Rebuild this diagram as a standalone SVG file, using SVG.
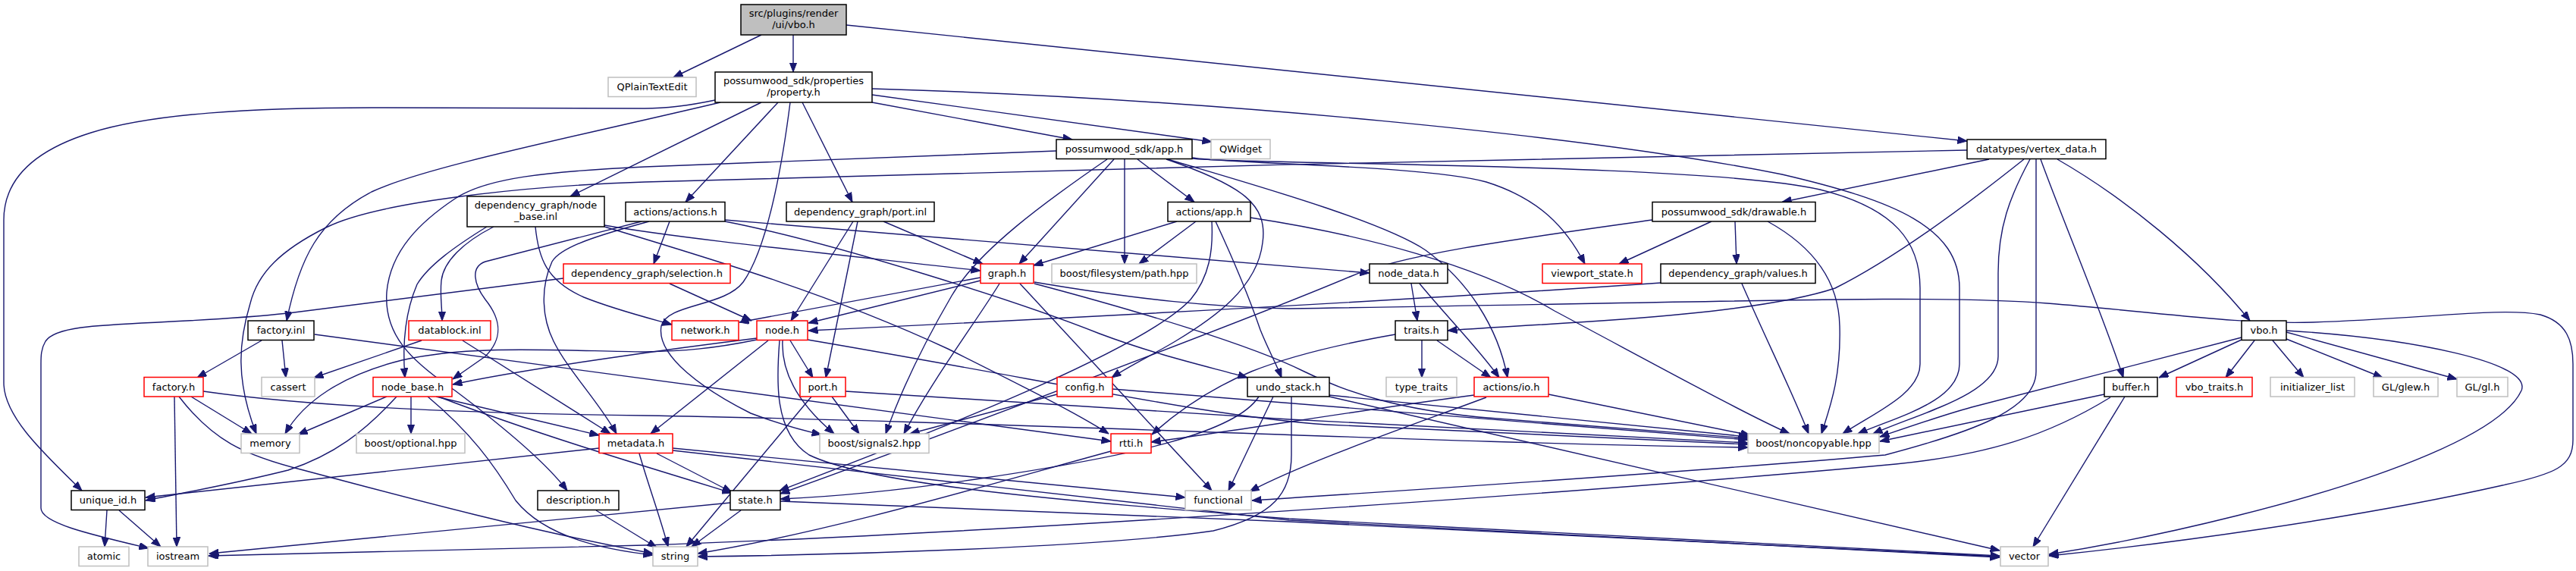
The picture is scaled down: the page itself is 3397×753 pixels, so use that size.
<svg xmlns="http://www.w3.org/2000/svg" width="3397" height="753" viewBox="0 0 3397 753">
<defs>
<marker id="a" markerWidth="13" markerHeight="10" refX="12.5" refY="4.75" orient="auto" markerUnits="userSpaceOnUse"><path d="M0,0 L12.5,4.75 L0,9.5 z" fill="#191970" stroke="#191970" stroke-width="1"/></marker>
</defs>
<style>
.nd rect{fill:#fff;stroke:#000;stroke-width:1.5}
.nd.ext rect{stroke:#bfbfbf}
.nd.tr rect{stroke:#ff0000}
.nd.root rect{fill:#bfbfbf}
.nd text{font-family:"DejaVu Sans","Liberation Sans",sans-serif;font-size:13px;text-anchor:middle;fill:#000}
#edges path{fill:none;stroke:#191970;stroke-width:1.4;marker-end:url(#a)}
</style>
<rect x="0" y="0" width="3397" height="753" fill="#fff"/>
<g id="edges">
<path d="M1004,46 L888,102"/>
<path d="M1046,46 L1046,95"/>
<path d="M1116,33 L2594,186"/>
<path d="M1150,125 L1598,187"/>
<path d="M1150,135 L1414,184"/>
<path d="M1026,135 L904,266.5"/>
<path d="M1058,135 L1124,266.5"/>
<path d="M1004,135 L752,259"/>
<path d="M950,135 C760,180 560,220 490,253 C420,290 395,340 378,423"/>
<path d="M943,132 C905,140 880,143 850,143 L490,142 C330,142 200,150 120,175 C40,200 5,240 5,290 L5,505 C5,550 60,600 108,647"/>
<path d="M1042,135 C1030,230 1010,330 980,372 C955,405 880,400 872,430 C865,470 930,515 990,545 C1030,560 1060,568 1083,573"/>
<path d="M1150,117 C1600,130 2100,180 2350,230 C2500,265 2584,300 2584,380 L2584,480 C2584,530 2500,550 2450,572"/>
<path d="M1500,210 L1575,266.5"/>
<path d="M1483,210 L1483,348"/>
<path d="M1469,210 L1344,348"/>
<path d="M1460,210 C1380,265 1290,330 1255,390 C1220,450 1190,510 1168,572"/>
<path d="M1393,199 L850,220 C720,226 640,235 600,262 C555,292 515,330 510,385 C506,440 540,475 600,515 C660,560 720,610 748,647"/>
<path d="M1572,208 C1620,216 1880,218 1960,240 C2030,262 2065,300 2090,348"/>
<path d="M1572,209 C1640,217 2250,215 2400,250 C2500,275 2532,320 2532,380 L2532,480 C2532,520 2470,545 2430,572"/>
<path d="M1540,210 C1640,240 1820,290 1880,330 C1935,370 1975,430 1988,498"/>
<path d="M1538,210 C1640,245 1672,270 1665,320 C1658,380 1600,420 1550,450 C1520,468 1490,482 1466,498"/>
<path d="M1598,292 C1600,330 1595,365 1570,395 C1500,470 1150,600 1028,647"/>
<path d="M1552,292 L1363,350"/>
<path d="M1577,292 L1502,348"/>
<path d="M1603,292 C1630,350 1650,400 1662,435 C1672,460 1683,480 1690,498"/>
<path d="M1649,287 C1800,310 1950,350 2050,410 C2200,490 2300,545 2360,572"/>
<path d="M2594,198 C2200,205 1300,225 850,240 C700,245 500,265 430,300 C370,330 340,360 330,400 C315,450 310,500 338,572"/>
<path d="M2623,210 L2350,266.5"/>
<path d="M2669,210 C2600,265 2500,340 2420,380 C2300,420 2000,428 1909,436"/>
<path d="M2677,210 C2650,260 2635,300 2635,360 L2635,470 C2635,520 2530,545 2470,572"/>
<path d="M2685,210 L2685,490 C2685,540 2600,570 2486,600 C2200,625 1800,650 1651,660"/>
<path d="M2691,210 C2720,290 2775,420 2800,498"/>
<path d="M2713,210 C2800,260 2900,340 2967,423"/>
<path d="M2257,292 L2135,348"/>
<path d="M2288,292 L2290,348"/>
<path d="M2331,292 C2400,330 2425,380 2426,430 C2428,500 2412,540 2402,572"/>
<path d="M2179,290 C2000,315 1850,335 1780,365 C1650,420 1200,590 1029,651"/>
<path d="M2190,373 C1900,393 1500,415 1066,436"/>
<path d="M2297,374 C2330,450 2365,520 2385,572"/>
<path d="M1861,374 L1869,423"/>
<path d="M1872,374 C1910,420 1950,460 1977,498"/>
<path d="M1875,449 L1875,498"/>
<path d="M1895,449 L1966,498"/>
<path d="M1840,441 C1760,455 1700,470 1650,490 C1590,515 1550,545 1519,573"/>
<path d="M2956,448 L2847,498"/>
<path d="M2973,449 L2935,498"/>
<path d="M2997,449 L3038,498"/>
<path d="M3015,447 L3142,498"/>
<path d="M3015,438 L3240,500"/>
<path d="M2956,445 L2600,537 C2560,548 2520,562 2479,576"/>
<path d="M3015,436 C3180,446 3340,478 3325,515 C3300,570 3150,630 2950,680 C2850,705 2760,722 2702,731"/>
<path d="M2802,523 L2681,721"/>
<path d="M2775,520 L2479,582"/>
<path d="M2783,524 C2700,575 2620,600 2500,612 C2200,640 1400,700 850,719 L275,733"/>
<path d="M1660,523 C1630,570 1500,600 1300,630 C1200,645 1100,655 1029,658"/>
<path d="M1679,523 L1620,647"/>
<path d="M1703,523 L1703,600 C1703,650 1680,680 1600,700 C1450,722 1100,732 920,734"/>
<path d="M1752,521 L2305,576"/>
<path d="M1753,523 L2637,726"/>
<path d="M1944,521 C1800,540 1650,565 1518,583"/>
<path d="M1960,524 C1850,565 1720,610 1648,648"/>
<path d="M2042,520 L2308,574"/>
<path d="M1394,520 L1200,572"/>
<path d="M1467,513 L2305,580"/>
<path d="M1097,523 L1133,572"/>
<path d="M1070,523 L905,721"/>
<path d="M1115,516 L1700,553 L2305,584"/>
<path d="M998,446 C900,458 700,485 597,507"/>
<path d="M998,448 C940,460 900,463 850,464 C720,462 620,455 530,475 C450,495 400,530 376,572"/>
<path d="M1013,449 L858,572"/>
<path d="M1032,449 C1030,490 1050,530 1100,572"/>
<path d="M1042,449 L1072,498"/>
<path d="M1065,448 C1400,505 1600,550 1750,560 L2305,586"/>
<path d="M1028,449 C1024,500 1020,570 1067,600 C1150,640 1400,660 1700,684 L2637,733"/>
<path d="M1293,366 L975,425"/>
<path d="M1293,370 L1066,426"/>
<path d="M1318,374 C1290,420 1230,500 1192,572"/>
<path d="M1345,374 L1598,647"/>
<path d="M1364,372 C1500,395 1600,405 1700,407 C2300,398 2550,388 2700,400 C2850,412 2950,428 3050,425 C3200,420 3300,405 3350,415 C3385,425 3393,450 3393,480 L3393,580 C3393,615 3370,625 3300,640 C3100,685 2850,718 2702,733"/>
<path d="M1364,374 C1500,410 1650,455 1720,490 C1780,520 1850,540 1950,550 L2305,578"/>
<path d="M883,374 L991,423"/>
<path d="M743,367 L380,413 C200,432 80,420 60,450 C54,460 54,470 54,480 L54,670 C54,690 120,705 196,723"/>
<path d="M883,292 L862,348"/>
<path d="M846,292 L640,345 C620,352 625,375 640,395 C660,420 665,445 640,470 L597,500"/>
<path d="M856,292 C790,310 740,325 728,345 C712,380 715,420 730,450 C750,490 790,530 813,572"/>
<path d="M956,290 L1806,360"/>
<path d="M956,292 C1100,320 1350,400 1450,440 C1530,470 1600,485 1645,498"/>
<path d="M651,299 C610,320 585,345 582,370 C580,390 583,405 583,423"/>
<path d="M642,299 C600,325 565,350 550,375 C535,410 530,450 534,498"/>
<path d="M706,299 C710,340 720,370 770,392 C810,408 850,418 886,428"/>
<path d="M797,297 C900,315 1100,335 1293,357"/>
<path d="M797,299 C950,345 1100,390 1250,460 C1350,510 1420,545 1462,572"/>
<path d="M345,449 L260,498"/>
<path d="M372,449 L377,498"/>
<path d="M415,441 L1465,582"/>
<path d="M556,449 L414,498"/>
<path d="M610,449 L805,572"/>
<path d="M252,523 L332,572"/>
<path d="M230,523 L233,721"/>
<path d="M236,523 C280,580 320,600 400,620 C550,660 700,700 861,730"/>
<path d="M268,516 C400,535 600,545 850,548 C1300,555 1900,585 2305,590"/>
<path d="M510,523 L393,573"/>
<path d="M523,523 C480,570 440,600 380,620 C300,640 240,650 192,660"/>
<path d="M542,523 L542,572"/>
<path d="M564,523 C620,570 650,610 680,660 C720,710 800,725 861,732"/>
<path d="M575,523 L790,574"/>
<path d="M578,523 C700,570 850,615 965,650"/>
<path d="M790,591 L192,656"/>
<path d="M866,598 L965,649"/>
<path d="M843,598 C855,640 870,680 881,721"/>
<path d="M887,591 L1563,656"/>
<path d="M887,594 L1700,686 L2637,735"/>
<path d="M963,663 L276,730"/>
<path d="M977,673 L912,721"/>
<path d="M1029,661 L1700,688 L2637,734"/>
<path d="M1465,595 C1300,640 1100,700 920,730"/>
<path d="M141,673 L138,721"/>
<path d="M157,673 L212,721"/>
<path d="M786,673 L866,722"/>
<path d="M1125,292 L1043,423"/>
<path d="M1131,292 L1089,498"/>
<path d="M1165,292 L1296,348"/>
</g>
<g id="n-root" class="nd root"><rect x="977" y="6" width="139" height="40"/><text x="1046.5" y="22">src/plugins/render</text><text x="1046.5" y="36.5">/ui/vbo.h</text></g>
<g id="n-qplaintextedit" class="nd ext"><rect x="802" y="102" width="116" height="25.5"/><text x="860" y="119">QPlainTextEdit</text></g>
<g id="n-property" class="nd"><rect x="943" y="95" width="207" height="40"/><text x="1046.5" y="111">possumwood_sdk/properties</text><text x="1046.5" y="125.5">/property.h</text></g>
<g id="n-app" class="nd"><rect x="1393" y="184" width="179" height="25.5"/><text x="1482.5" y="201">possumwood_sdk/app.h</text></g>
<g id="n-qwidget" class="nd ext"><rect x="1597" y="184" width="78" height="25.5"/><text x="1636" y="201">QWidget</text></g>
<g id="n-vertex-data" class="nd"><rect x="2594" y="184" width="183" height="25.5"/><text x="2685.5" y="201">datatypes/vertex_data.h</text></g>
<g id="n-node-base-inl" class="nd"><rect x="616" y="259" width="181" height="40"/><text x="706.5" y="275">dependency_graph/node</text><text x="706.5" y="289.5">_base.inl</text></g>
<g id="n-actions" class="nd"><rect x="825" y="266.5" width="131" height="25.5"/><text x="890.5" y="283.5">actions/actions.h</text></g>
<g id="n-port-inl" class="nd"><rect x="1037" y="266.5" width="195" height="25.5"/><text x="1134.5" y="283.5">dependency_graph/port.inl</text></g>
<g id="n-actions-app" class="nd"><rect x="1540" y="266.5" width="109" height="25.5"/><text x="1594.5" y="283.5">actions/app.h</text></g>
<g id="n-drawable" class="nd"><rect x="2179" y="266.5" width="215" height="25.5"/><text x="2286.5" y="283.5">possumwood_sdk/drawable.h</text></g>
<g id="n-selection" class="nd tr"><rect x="743" y="348" width="220" height="25.5"/><text x="853" y="365">dependency_graph/selection.h</text></g>
<g id="n-graph" class="nd tr"><rect x="1293" y="348" width="70" height="25.5"/><text x="1328" y="365">graph.h</text></g>
<g id="n-path" class="nd ext"><rect x="1387" y="348" width="191" height="25.5"/><text x="1482.5" y="365">boost/filesystem/path.hpp</text></g>
<g id="n-node-data" class="nd"><rect x="1806" y="348" width="103" height="25.5"/><text x="1857.5" y="365">node_data.h</text></g>
<g id="n-viewport-state" class="nd tr"><rect x="2034" y="348" width="131" height="25.5"/><text x="2099.5" y="365">viewport_state.h</text></g>
<g id="n-values" class="nd"><rect x="2190" y="348" width="204" height="25.5"/><text x="2292" y="365">dependency_graph/values.h</text></g>
<g id="n-factory-inl" class="nd"><rect x="327" y="423" width="87" height="25.5"/><text x="370.5" y="440">factory.inl</text></g>
<g id="n-datablock" class="nd tr"><rect x="539" y="423" width="108" height="25.5"/><text x="593" y="440">datablock.inl</text></g>
<g id="n-network" class="nd tr"><rect x="886" y="423" width="88" height="25.5"/><text x="930" y="440">network.h</text></g>
<g id="n-node" class="nd tr"><rect x="998" y="423" width="67" height="25.5"/><text x="1031.5" y="440">node.h</text></g>
<g id="n-traits" class="nd"><rect x="1840" y="423" width="69" height="25.5"/><text x="1874.5" y="440">traits.h</text></g>
<g id="n-vbo" class="nd"><rect x="2956" y="423" width="59" height="25.5"/><text x="2985.5" y="440">vbo.h</text></g>
<g id="n-factory-h" class="nd tr"><rect x="190" y="497.5" width="78" height="25.5"/><text x="229" y="514.5">factory.h</text></g>
<g id="n-cassert" class="nd ext"><rect x="345" y="497.5" width="70" height="25.5"/><text x="380" y="514.5">cassert</text></g>
<g id="n-node-base-h" class="nd tr"><rect x="492" y="497.5" width="104" height="25.5"/><text x="544" y="514.5">node_base.h</text></g>
<g id="n-port-h" class="nd tr"><rect x="1055" y="497.5" width="60" height="25.5"/><text x="1085" y="514.5">port.h</text></g>
<g id="n-config" class="nd tr"><rect x="1394" y="497.5" width="73" height="25.5"/><text x="1430.5" y="514.5">config.h</text></g>
<g id="n-undo-stack" class="nd"><rect x="1645" y="497.5" width="108" height="25.5"/><text x="1699" y="514.5">undo_stack.h</text></g>
<g id="n-type-traits" class="nd ext"><rect x="1828" y="497.5" width="93" height="25.5"/><text x="1874.5" y="514.5">type_traits</text></g>
<g id="n-io" class="nd tr"><rect x="1944" y="497.5" width="98" height="25.5"/><text x="1993" y="514.5">actions/io.h</text></g>
<g id="n-buffer" class="nd"><rect x="2775" y="497.5" width="70" height="25.5"/><text x="2810" y="514.5">buffer.h</text></g>
<g id="n-vbo-traits" class="nd tr"><rect x="2870" y="497.5" width="100" height="25.5"/><text x="2920" y="514.5">vbo_traits.h</text></g>
<g id="n-initializer-list" class="nd ext"><rect x="2994" y="497.5" width="111" height="25.5"/><text x="3049.5" y="514.5">initializer_list</text></g>
<g id="n-glew" class="nd ext"><rect x="3130" y="497.5" width="85" height="25.5"/><text x="3172.5" y="514.5">GL/glew.h</text></g>
<g id="n-gl" class="nd ext"><rect x="3240" y="497.5" width="67" height="25.5"/><text x="3273.5" y="514.5">GL/gl.h</text></g>
<g id="n-memory" class="nd ext"><rect x="318" y="572" width="77" height="25.5"/><text x="356.5" y="589">memory</text></g>
<g id="n-optional" class="nd ext"><rect x="470" y="572" width="143" height="25.5"/><text x="541.5" y="589">boost/optional.hpp</text></g>
<g id="n-metadata" class="nd tr"><rect x="790" y="572" width="97" height="25.5"/><text x="838.5" y="589">metadata.h</text></g>
<g id="n-signals2" class="nd ext"><rect x="1081" y="572" width="144" height="25.5"/><text x="1153" y="589">boost/signals2.hpp</text></g>
<g id="n-rtti" class="nd tr"><rect x="1465" y="572" width="53" height="25.5"/><text x="1491.5" y="589">rtti.h</text></g>
<g id="n-noncopyable" class="nd ext"><rect x="2305" y="572" width="173" height="25.5"/><text x="2391.5" y="589">boost/noncopyable.hpp</text></g>
<g id="n-unique-id" class="nd"><rect x="94" y="647" width="97" height="25.5"/><text x="142.5" y="664">unique_id.h</text></g>
<g id="n-description" class="nd"><rect x="709" y="647" width="107" height="25.5"/><text x="762.5" y="664">description.h</text></g>
<g id="n-state" class="nd"><rect x="963" y="647" width="66" height="25.5"/><text x="996" y="664">state.h</text></g>
<g id="n-functional" class="nd ext"><rect x="1563" y="647" width="87" height="25.5"/><text x="1606.5" y="664">functional</text></g>
<g id="n-atomic" class="nd ext"><rect x="104" y="721" width="66" height="25.5"/><text x="137" y="738">atomic</text></g>
<g id="n-iostream" class="nd ext"><rect x="195" y="721" width="79" height="25.5"/><text x="234.5" y="738">iostream</text></g>
<g id="n-string" class="nd ext"><rect x="861" y="721" width="59" height="25.5"/><text x="890.5" y="738">string</text></g>
<g id="n-vector" class="nd ext"><rect x="2638" y="721" width="63" height="25.5"/><text x="2669.5" y="738">vector</text></g>
</svg>
